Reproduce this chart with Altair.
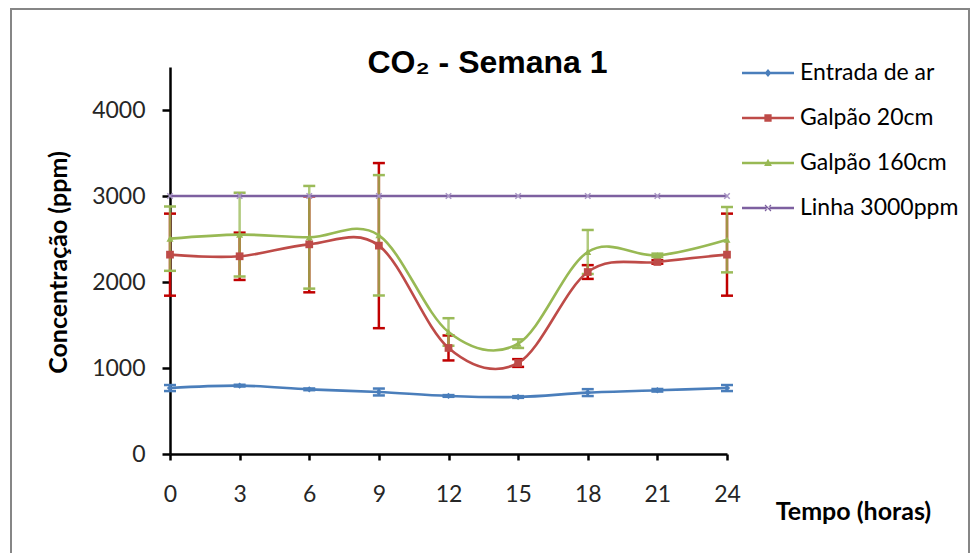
import altair as alt
import pandas as pd

hours = [0, 3, 6, 9, 12, 15, 18, 21, 24]
series_names = ["Entrada de ar", "Galpão 20cm", "Galpão 160cm", "Linha 3000ppm"]
entrada = [767, 795, 752, 721, 675, 663, 714, 741, 767]
entrada_err = [35, 10, 10, 40, 10, 10, 40, 15, 35]
galpao20 = [2318, 2299, 2438, 2423, 1233, 1058, 2116, 2233, 2318]
galpao20_err = [477, 275, 558, 960, 145, 45, 80, 20, 477]
galpao160 = [2504, 2551, 2520, 2543, 1419, 1283, 2349, 2310, 2492]
galpao160_err = [374, 487, 597, 700, 160, 50, 256, 20, 380]
linha = [3000, 3000, 3000, 3000, 3000, 3000, 3000, 3000, 3000]

line_colors = ["#4A7EBB", "#BE4B48", "#98B954", "#7D60A0"]
err_colors = ["#4A7EBB", "#C00000", "#9BBB59", "#7D60A0"]
err_opacity = [1.0, 1.0, 0.78, 1.0]

values = [entrada, galpao20, galpao160, linha]
errors = [entrada_err, galpao20_err, galpao160_err, None]

rows = []
for name, vals, errs in zip(series_names, values, errors):
    for i, h in enumerate(hours):
        e = errs[i] if errs is not None else 0
        rows.append({"hour": h, "series": name, "value": vals[i],
                     "lo": vals[i] - e, "hi": vals[i] + e})
df = pd.DataFrame(rows)

X = alt.X("hour:Q", scale=alt.Scale(domain=[0, 24], nice=False),
          axis=alt.Axis(values=hours, title="Tempo (horas)", tickSize=6,
                        labelPadding=23, labelFontSize=23, labelFlush=False,
                        titleX=683, titleY=57, titleAlign="center",
                        titleBaseline="middle", titleAngle=0))
Y = alt.Y("value:Q", scale=alt.Scale(domain=[0, 4500], nice=False),
          axis=alt.Axis(values=[0, 1000, 2000, 3000, 4000], format="d",
                        title="Concentração (ppm)", tickSize=8, labelPadding=17,
                        labelFontSize=23, labelFlush=False,
                        titleX=-112, titleY=195, titleAlign="center",
                        titleBaseline="middle", titleAngle=-90))

frame = alt.Chart(alt.Data(values=[{"a": 1}])).mark_rect(
    fill=None, stroke="#868686", strokeWidth=2
).encode(x=alt.value(-159), x2=alt.value(799), y=alt.value(-58), y2=alt.value(600))

layers = [frame]

# error bars (Linha has none)
for k in range(3):
    sub = df[df["series"] == series_names[k]]
    base = alt.Chart(sub)
    layers.append(base.mark_rule(color=err_colors[k], strokeWidth=2.5,
                                 opacity=err_opacity[k]).encode(
        x="hour:Q", y="lo:Q", y2="hi:Q"))
    layers.append(base.mark_tick(color=err_colors[k], orient="horizontal",
                                 size=12, thickness=2.5, opacity=1.0).encode(
        x="hour:Q", y="lo:Q"))
    layers.append(base.mark_tick(color=err_colors[k], orient="horizontal",
                                 size=12, thickness=2.5, opacity=1.0).encode(
        x="hour:Q", y="hi:Q"))

# smoothed lines
for k in range(4):
    sub = df[df["series"] == series_names[k]]
    layers.append(alt.Chart(sub).mark_line(
        color=line_colors[k], strokeWidth=2.6, interpolate="cardinal"
    ).encode(x=X, y=Y))

# markers
marker_shapes = ["diamond", "square", "triangle-up", "M-1,-1L1,1M-1,1L1,-1"]
marker_sizes = [40, 60, 50, 30]
for k in range(4):
    sub = df[df["series"] == series_names[k]]
    if k < 3:
        mk = alt.Chart(sub).mark_point(shape=marker_shapes[k], size=marker_sizes[k],
                                       filled=True, color=line_colors[k], opacity=1)
    else:
        mk = alt.Chart(sub).mark_point(shape=marker_shapes[k], size=marker_sizes[k],
                                       filled=False, color="#A895C4", strokeWidth=1.5,
                                       opacity=1)
    layers.append(mk.encode(x="hour:Q", y="value:Q"))

# legend layer (invisible marks, legend symbols = line + marker)
legend_shapes = [
    "M-1,-0.045H1V0.045H-1Z M0,-0.15L0.13,0L0,0.15L-0.13,0Z",
    "M-1,-0.045H1V0.045H-1Z M-0.14,-0.14H0.14V0.14H-0.14Z",
    "M-1,-0.045H1V0.045H-1Z M0,-0.16L0.15,0.12H-0.15Z",
    "M-1,-0.045H1V0.045H-1Z M-0.13,-0.1L-0.1,-0.13L0.13,0.1L0.1,0.13Z M-0.13,0.1L-0.1,0.13L0.13,-0.1L0.1,-0.13Z",
]
leg = alt.Legend(title=None, orient="none", legendX=572, legendY=-20,
                 symbolSize=2704, labelFont="Lato", labelFontSize=23,
                 labelColor="#000000", labelOffset=6, rowPadding=7,
                 symbolOpacity=1, symbolStrokeWidth=0, padding=0)
legend_layer = alt.Chart(df).mark_point(filled=True, opacity=0, size=2704).encode(
    x="hour:Q", y="value:Q",
    color=alt.Color("series:N", scale=alt.Scale(domain=series_names, range=line_colors),
                    legend=leg),
    shape=alt.Shape("series:N", scale=alt.Scale(domain=series_names, range=legend_shapes),
                    legend=leg),
)
layers.append(legend_layer)

chart = alt.layer(*layers).properties(
    width=557, height=387,
    background="#ffffff",
    autosize=alt.AutoSizeParams(type="none"),
    padding={"left": 170, "top": 67, "right": 244, "bottom": 99},
    title=alt.TitleParams(text="CO₂ - Semana 1", font="Liberation Sans", fontSize=32,
                          fontWeight="bold", anchor="middle", dx=39, offset=-97,
                          baseline="alphabetic", color="#000000"),
).configure_view(stroke=None).configure_axis(
    grid=False, domainColor="#000000", domainWidth=2.5, tickColor="#000000",
    tickWidth=2.5, labelFont="Lato", labelColor="#262626",
    titleFont="Lato", titleFontSize=25, titleFontWeight="bold", titleColor="#000000",
)

chart.save("out.html", embed_options={"renderer": "svg", "actions": False})
